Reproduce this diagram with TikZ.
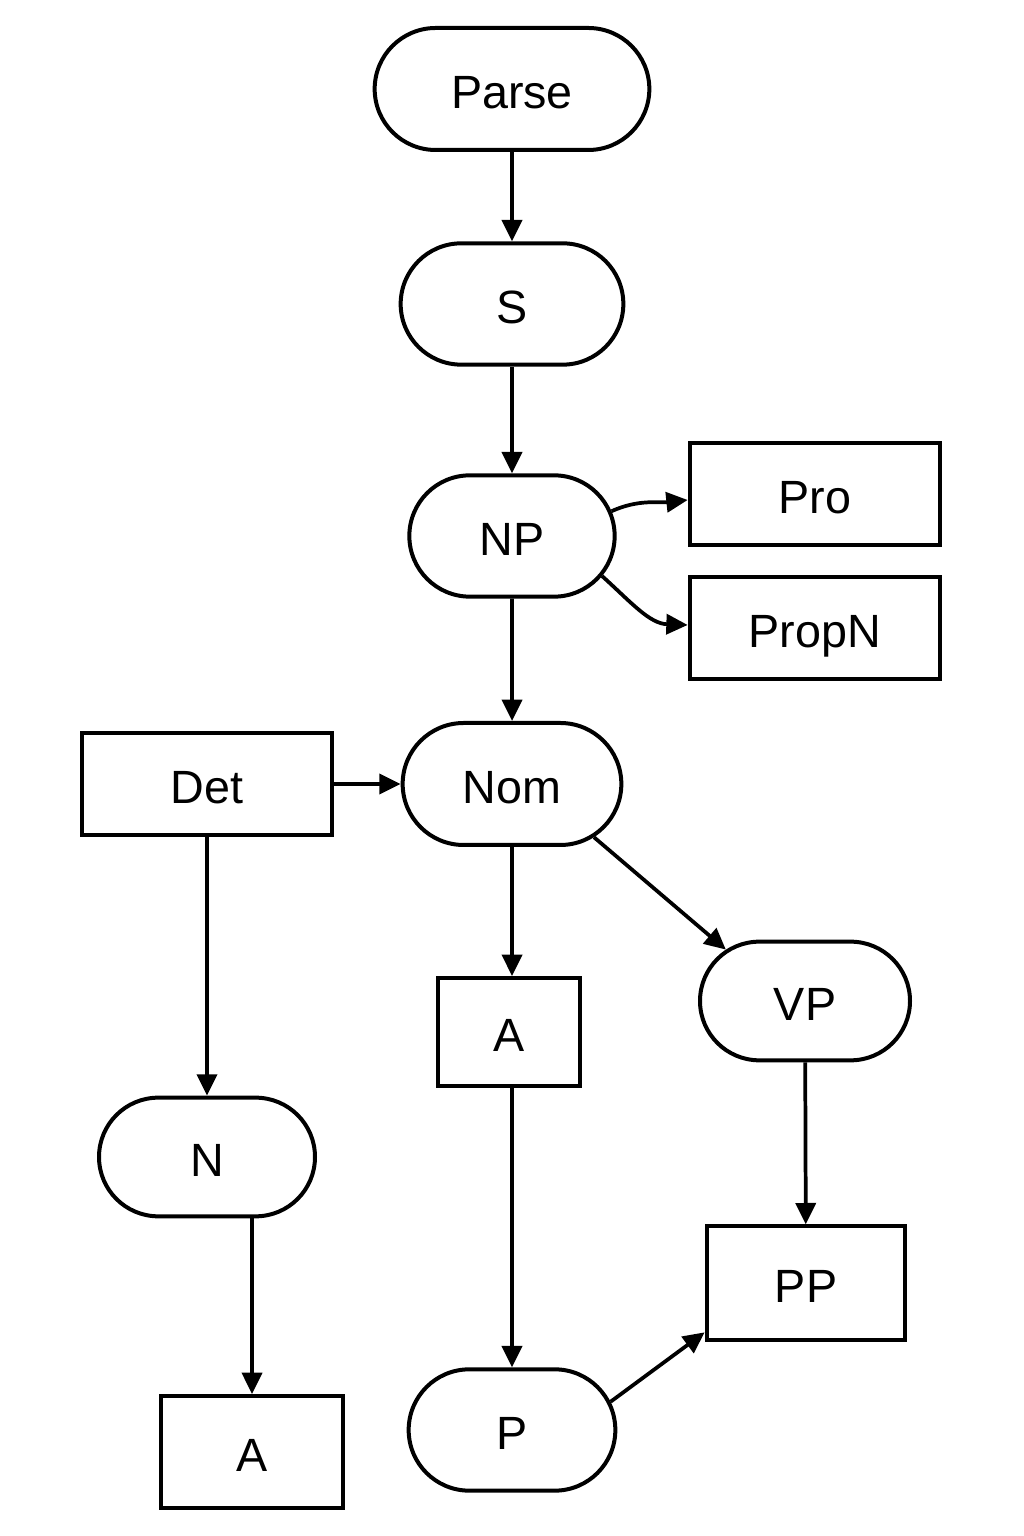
\documentclass[tikz,border=0pt]{standalone}
\usepackage{fontspec}
\setmainfont{Liberation Sans}
\usetikzlibrary{arrows.meta,shapes.misc}
\begin{document}
\begin{tikzpicture}[x=0.75pt,y=0.75pt,
  every node/.style={font=\fontsize{35}{40}\selectfont, line width=3pt, draw, inner sep=0pt, text height=29.5pt, text depth=0pt},
  pill/.style={rounded rectangle},
  boxnode/.style={rectangle},
  conn/.style={line width=2.8pt, -{Triangle[length=16pt,width=15pt]}}]
\useasboundingbox (0,0) rectangle (1024,1536);
\node[pill, minimum width=206pt, minimum height=91.5pt] (parse) at (512,1447) {Parse};
\node[pill, minimum width=167pt, minimum height=91pt] (s) at (512,1232) {S};
\node[pill, minimum width=154pt, minimum height=91pt] (np) at (512,1000) {NP};
\node[boxnode, minimum width=188pt, minimum height=77pt] (pro) at (815,1042) {Pro};
\node[boxnode, minimum width=188pt, minimum height=77pt] (propn) at (815,908) {PropN};
\node[boxnode, minimum width=187.5pt, minimum height=76.5pt] (det) at (207,752) {Det};
\node[pill, minimum width=164pt, minimum height=91.5pt] (nom) at (512,752) {Nom};
\node[boxnode, minimum width=106.5pt, minimum height=81pt] (a1) at (509,504) {A};
\node[pill, minimum width=157.5pt, minimum height=89pt] (vp) at (805,535) {VP};
\node[pill, minimum width=162pt, minimum height=89pt] (n) at (207,379) {N};
\node[boxnode, minimum width=149pt, minimum height=85pt] (pp) at (806,253) {PP};
\node[pill, minimum width=155pt, minimum height=91pt] (p) at (512,106) {P};
\node[boxnode, minimum width=136pt, minimum height=84pt] (a2) at (252,84) {A};

\draw[conn] (parse) -- (s);
\draw[conn] (s) -- (np);
\draw[conn] (np.14) to[out=24,in=186] ([yshift=-4.5pt]pro.west);
\draw[conn] (np.-24) to[out=-42,in=178] ([yshift=2.25pt]propn.west);
\draw[conn] (np) -- (nom);
\draw[conn] (det) -- (nom);
\draw[conn] (det) -- (n);
\draw[conn] (nom.south) -- (nom.south |- a1.north);
\draw[conn] (nom.-33) -- (vp.147);
\draw[conn] (vp) -- (pp);
\draw[conn] (a2.north |- n.south) -- (a2.north);
\draw[conn] (p.north |- a1.south) -- (p.north);
\draw[conn] (p.16) -- ([yshift=7pt]pp.south west);
\end{tikzpicture}
\end{document}
